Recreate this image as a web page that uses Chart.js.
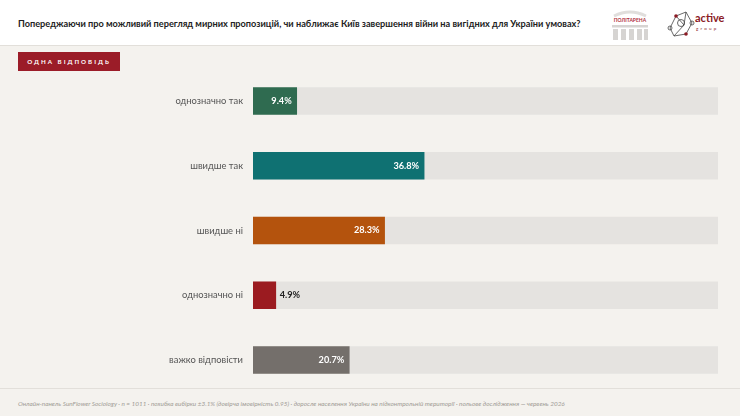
<!DOCTYPE html>
<html>
<head>
<meta charset="utf-8">
<script src="https://cdn.jsdelivr.net/npm/chart.js@4.4.1/dist/chart.umd.min.js"></script>
<style>
  html, body { margin: 0; padding: 0; }
  body { width: 740px; height: 416px; background: #f4f2ee; font-family: Lato, "Open Sans", sans-serif; position: relative; overflow: hidden; }
  #header { position: absolute; left: 0; top: 0; width: 740px; height: 45px; background: #fff; border-bottom: 1px solid #e2dfda; }
  #title { position: absolute; left: 18px; top: 18px; font-size: 9.2px; font-weight: 700; color: #222; }
  #badge { position: absolute; left: 18px; top: 52px; width: 102px; height: 19px; background: #9b1c28; color: #fff; font-size: 6.2px; font-weight: 700; letter-spacing: 2px; line-height: 19px; text-align: center; }
  #wrap { position: absolute; left: 0; top: 61px; width: 740px; height: 339px; }
  #footer { position: absolute; left: 0; top: 388px; width: 740px; height: 28px; border-top: 1px solid #e2dfda; background: #f4f2ee; }
  #note { position: absolute; left: 18px; top: 11px; font-size: 6.4px; font-style: italic; font-weight: 400; color: #a09b95; }
  #logos { position: absolute; left: 604px; top: 4px; }
</style>
</head>
<body>
<div id="header">
  <div id="title">Попереджаючи про можливий перегляд мирних пропозицій, чи наближає Київ завершення війни на вигідних для України умовах?</div>
  <svg id="logos" width="136" height="38" viewBox="0 0 136 38">
    <path d="M10 12 Q26 4 42 12" stroke="#e0dedc" stroke-width="3" fill="none"/>
    <text x="26" y="18" font-size="5" font-family="Lato" font-weight="700" fill="#b0303a" text-anchor="middle">ПОЛІТАРЕНА</text>
    <g fill="#d6d4d2">
      <rect x="8" y="21" width="36" height="2.5"/>
      <rect x="9" y="25" width="5" height="11"/>
      <rect x="17" y="25" width="5" height="11"/>
      <rect x="25" y="25" width="5" height="11"/>
      <rect x="33" y="25" width="5" height="11"/>
      <rect x="40" y="25" width="4" height="11"/>
    </g>
    <g stroke="#444" stroke-width="0.8" fill="none">
      <polyline points="66,24 72,12 82,8 88,19 82,30 70,32 66,24"/>
      <line x1="72" y1="12" x2="80" y2="21"/>
      <line x1="82" y1="8" x2="80" y2="21"/>
      <line x1="80" y1="21" x2="70" y2="32"/>
      <circle cx="77" cy="19" r="3.5"/>
      <circle cx="66" cy="24" r="2"/>
      <circle cx="88" cy="19" r="2"/>
    </g>
    <circle cx="72" cy="12" r="1.8" fill="#8b1a24"/>
    <circle cx="82" cy="30" r="1.8" fill="#8b1a24"/>
    <text x="91" y="18" font-size="11" font-family="Lato" font-weight="700" fill="#8b1a24">active</text>
    <text x="92" y="26" font-size="4.5" font-family="Lato" fill="#8b1a24" letter-spacing="2.2">group</text>
  </svg>
</div>
<div id="badge">ОДНА ВІДПОВІДЬ</div>
<div id="wrap"><canvas id="chartBars"></canvas></div>
<div id="footer">
  <div id="note">Онлайн-панель SunFlower Sociology · n = 1011 · похибка вибірки ±3.1% (довірча імовірність 0.95) · доросле населення України на підконтрольній території · польове дослідження — червень 2026</div>
</div>
<script>
const answers = ["однозначно так", "швидше так", "швидше ні", "однозначно ні", "важко відповісти"];
const shares = [9.4, 36.8, 28.3, 4.9, 20.7];
const barColors = ["#2f6b50", "#0f7172", "#b4530d", "#9b1b20", "#746f6b"];
const scaleMax = 100;

const valueLabels = {
    id: "valueLabels",
    afterDatasetsDraw(chart) {
        const ctx = chart.ctx;
        const meta = chart.getDatasetMeta(0);
        ctx.save();
        ctx.font = "700 9.2px Lato";
        ctx.textBaseline = "middle";
        meta.data.forEach((bar, i) => {
            const txt = shares[i].toFixed(1) + "%";
            const w = bar.x - bar.base;
            if (w > 40) {
                ctx.fillStyle = "#fff";
                ctx.textAlign = "right";
                ctx.fillText(txt, bar.x - 5, bar.y);
            } else {
                ctx.fillStyle = "#222";
                ctx.textAlign = "left";
                ctx.fillText(txt, bar.x + 4, bar.y);
            }
        });
        ctx.restore();
    },
};

new Chart(document.getElementById("chartBars"), {
    type: "bar",
    data: {
        labels: answers,
        datasets: [{
            data: shares,
            backgroundColor: barColors,
            barThickness: 27,
            grouped: false,
            order: 0,
        }, {
            data: answers.map(() => scaleMax),
            backgroundColor: "#e5e3e0",
            barThickness: 27,
            grouped: false,
            order: 1,
        }],
    },
    options: {
        indexAxis: "y",
        responsive: true,
        maintainAspectRatio: false,
        animation: false,
        layout: { padding: { left: 0, right: 22, top: 0, bottom: 0 } },
        plugins: { legend: { display: false }, tooltip: { enabled: false } },
        scales: {
            x: { display: false, min: 0, max: scaleMax },
            y: {
                grid: { display: false },
                border: { display: false },
                afterFit(scale) { scale.width = 253; },
                ticks: { color: "#555", font: { family: "Lato", size: 9.4 }, padding: 2 },
            },
        },
    },
    plugins: [valueLabels],
});
</script>
</body>
</html>
